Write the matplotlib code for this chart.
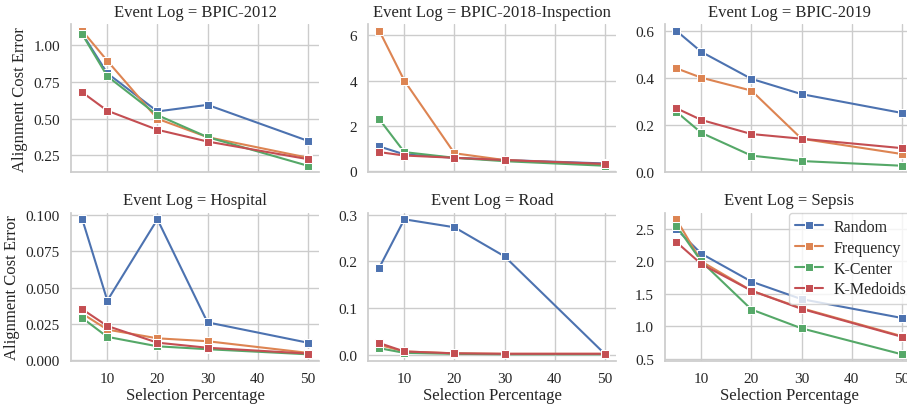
import matplotlib
matplotlib.use("Agg")
import matplotlib.pyplot as plt
from matplotlib.ticker import FormatStrFormatter, MultipleLocator
import seaborn as sns

x = [5, 10, 20, 30, 50]
methods = ["Random", "Frequency", "K-Center", "K-Medoids"]
logs = ["BPIC-2012", "BPIC-2018-Inspection", "BPIC-2019", "Hospital", "Road", "Sepsis"]

bpic2012 = {
    "Random": [1.08, 0.81, 0.55, 0.595, 0.35],
    "Frequency": [1.10, 0.895, 0.50, 0.375, 0.235],
    "K-Center": [1.075, 0.79, 0.525, 0.375, 0.18],
    "K-Medoids": [0.68, 0.555, 0.425, 0.345, 0.225],
}
bpic2018 = {
    "Random": [1.1, 0.75, 0.6, 0.5, 0.35],
    "Frequency": [6.2, 4.0, 0.8, 0.5, 0.3],
    "K-Center": [2.3, 0.85, 0.6, 0.45, 0.25],
    "K-Medoids": [0.85, 0.7, 0.6, 0.5, 0.33],
}
bpic2019 = {
    "Random": [0.60, 0.51, 0.395, 0.33, 0.25],
    "Frequency": [0.44, 0.40, 0.345, 0.14, 0.075],
    "K-Center": [0.255, 0.165, 0.068, 0.045, 0.025],
    "K-Medoids": [0.27, 0.22, 0.16, 0.14, 0.10],
}
hospital = {
    "Random": [0.097, 0.041, 0.097, 0.026, 0.012],
    "Frequency": [0.032, 0.021, 0.015, 0.013, 0.005],
    "K-Center": [0.029, 0.016, 0.0095, 0.0075, 0.004],
    "K-Medoids": [0.035, 0.0235, 0.012, 0.0085, 0.0045],
}
road = {
    "Random": [0.187, 0.29, 0.273, 0.211, 0.003],
    "Frequency": [0.022, 0.008, 0.004, 0.003, 0.003],
    "K-Center": [0.015, 0.005, 0.003, 0.002, 0.002],
    "K-Medoids": [0.026, 0.008, 0.004, 0.003, 0.003],
}
sepsis = {
    "Random": [2.50, 2.12, 1.69, 1.42, 1.13],
    "Frequency": [2.65, 2.0, 1.55, 1.28, 0.85],
    "K-Center": [2.55, 2.0, 1.26, 0.97, 0.57],
    "K-Medoids": [2.30, 1.96, 1.55, 1.27, 0.84],
}
data = [bpic2012, bpic2018, bpic2019, hospital, road, sepsis]

sns.set_theme(style="whitegrid")
plt.rcParams["font.family"] = ["Liberation Serif", "DejaVu Serif"]
colors = sns.color_palette("deep", 4)

fig, axes = plt.subplots(2, 3, figsize=(9.07, 4.10), dpi=100, sharex=True)
fig.subplots_adjust(left=0.0783, right=1.0066, bottom=0.117, top=0.939,
                    wspace=0.198, hspace=0.27)

for ax, log, d in zip(axes.flat, logs, data):
    for m, c in zip(methods, colors):
        ax.plot(x, d[m], color=c, marker="s", markersize=6, lw=1.5,
                markeredgecolor="white", markeredgewidth=0.75, label=m)
    ax.set_title(f"Event Log = {log}", fontsize=12)
    ax.tick_params(labelsize=11, pad=2)
    sns.despine(ax=ax)

# tick spacing per panel
axes[0, 0].yaxis.set_major_locator(MultipleLocator(0.25))
axes[0, 0].yaxis.set_major_formatter(FormatStrFormatter("%.2f"))
axes[0, 1].yaxis.set_major_locator(MultipleLocator(2))
axes[0, 2].yaxis.set_major_locator(MultipleLocator(0.2))
axes[0, 2].yaxis.set_major_formatter(FormatStrFormatter("%.1f"))
axes[1, 0].yaxis.set_major_locator(MultipleLocator(0.025))
axes[1, 0].yaxis.set_major_formatter(FormatStrFormatter("%.3f"))
axes[1, 1].yaxis.set_major_locator(MultipleLocator(0.1))
axes[1, 1].yaxis.set_major_formatter(FormatStrFormatter("%.1f"))
axes[1, 2].yaxis.set_major_locator(MultipleLocator(0.5))
axes[1, 2].yaxis.set_major_formatter(FormatStrFormatter("%.1f"))
axes[1, 0].set_xticks([10, 20, 30, 40, 50])

for ax in axes[:, 0]:
    ax.set_ylabel("Alignment Cost Error", fontsize=12)
for ax in axes[1, :]:
    ax.set_xlabel("Selection Percentage", fontsize=12, labelpad=1)

axes[1, 2].legend(loc="upper right", bbox_to_anchor=(1.0, 1.0), fontsize=11.5,
                  frameon=True, borderaxespad=0.0, handlelength=1.7,
                  handletextpad=0.7, labelspacing=0.3)

plt.savefig("out.png", dpi=100)
plt.close()
